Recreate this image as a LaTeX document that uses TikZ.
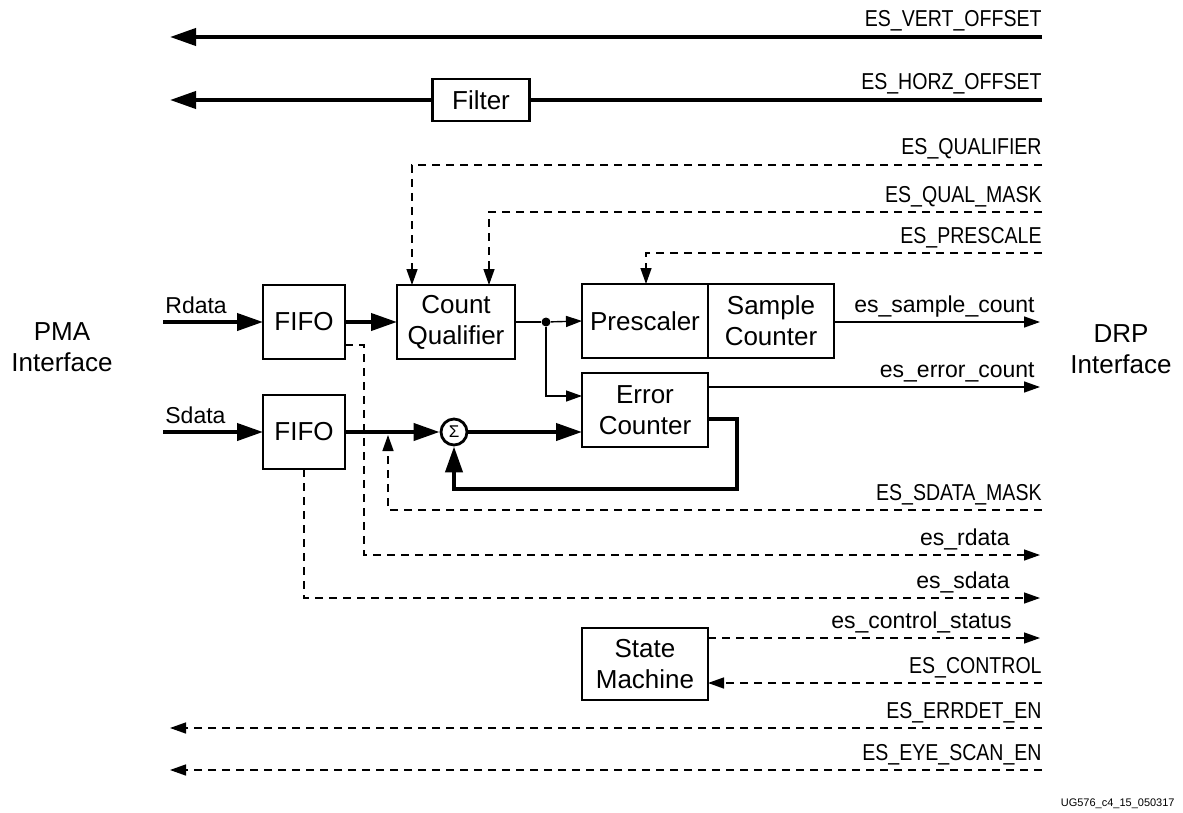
\documentclass[tikz,border=0pt]{standalone}
\usepackage{fontspec}
\setmainfont{Liberation Sans}
\newfontfamily\narrowfont[FakeStretch=0.85]{Liberation Sans}
\usetikzlibrary{arrows.meta, positioning}

\newcommand{\boxfont}{\fontsize{13}{15.5}\selectfont}
\newcommand{\sigfont}{\fontsize{11.5}{13}\selectfont}
\newcommand{\capsfont}{\narrowfont\fontsize{11.5}{13}\selectfont}

\begin{document}
\begin{tikzpicture}[
    x=0.5pt, y=-0.5pt, % one unit = one pixel of the layout, y pointing down
    >={Triangle[length=8pt, width=5.5pt]}, % small tip for thin and dashed lines
    block/.style={draw, line width=1.4pt, outer sep=0pt, inner sep=2pt, align=center, font=\boxfont, minimum width=63pt, minimum height=37pt}, % Style for the boxes
    bus/.style={line width=2pt}, % Style for the thick data paths
    busarrow/.style={bus, -{Triangle[length=13pt, width=8.5pt]}}, % thick path with big tip
    wire/.style={line width=0.7pt}, % Style for thin solid lines
    ctrl/.style={line width=0.7pt, dash pattern=on 4pt off 3pt}, % Style for dashed control lines
    siglabel/.style={anchor=base east, inner sep=0pt, font=\sigfont}, % lower case port names
    reglabel/.style={anchor=base east, inner sep=0pt, font=\capsfont}, % attribute names
    iface/.style={align=center, font=\boxfont} % Style for the side labels
]
    \useasboundingbox (0,0) rectangle (1183,813);

    % --- Blocks ---
    \node[block, minimum width=41pt] (fifoR) at (304,322) {FIFO};
    \node[block, minimum width=41pt] (fifoS) at (304,432) {FIFO};
    \node[block, minimum width=59pt] (qual) at (456,322) {Count\\Qualifier};
    \node[block] (presc) at (645,321) {Prescaler};
    \node[block, right=0pt of presc] (sampcnt) {Sample\\Counter};
    \node[block] (errcnt) at (645,410) {Error\\Counter};
    \node[block, minimum height=36pt] (fsm) at (645,664) {State\\Machine};
    \node[block, minimum width=48.5pt, minimum height=21pt] (filter) at (481,100) {Filter};
    \node[draw, circle, line width=1.4pt, minimum size=13pt, inner sep=0pt, font=\fontsize{8.5}{9}\selectfont] (sum) at (454,432) {Σ};
    \node[circle, fill, inner sep=0pt, minimum size=4.5pt] (split) at (546,322) {};

    % --- Interface labels ---
    \node[iface] (pma) at (62,347) {PMA\\Interface};
    \node[iface] (drp) at (1121,349) {DRP\\Interface};

    % --- Offset paths at the top ---
    \coordinate (vertR) at (1042,37);
    \coordinate (vertL) at (170,37);
    \draw[busarrow] (vertR) -- (vertL);
    \node[reglabel] (vertLbl) at (1042,27) {ES\_VERT\_OFFSET};
    \coordinate (horzR) at (1042,100);
    \coordinate (horzL) at (170,100);
    \draw[bus] (horzR) -- (filter.east);
    \draw[busarrow] (filter.west) -- (horzL);
    \node[reglabel] (horzLbl) at (1042,90) {ES\_HORZ\_OFFSET};

    % --- Controls for qualifier and prescaler ---
    \coordinate (qualR) at (1042,165);
    \coordinate (qualTap) at (412,165);
    \draw[ctrl, ->] (qualR) -- (qualTap) -- (qualTap |- qual.north);
    \node[reglabel] (qualLbl) at (1042,155) {ES\_QUALIFIER};
    \coordinate (maskR) at (1042,212);
    \coordinate (maskTap) at (489,212);
    \draw[ctrl, ->] (maskR) -- (maskTap) -- (maskTap |- qual.north);
    \node[reglabel] (maskLbl) at (1042,202) {ES\_QUAL\_MASK};
    \coordinate (prescR) at (1042,253);
    \coordinate (prescTap) at (646,253);
    \draw[ctrl, ->] (prescR) -- (prescTap) -- (prescTap |- presc.north);
    \node[reglabel] (prescLbl) at (1042,243) {ES\_PRESCALE};

    % --- Data inputs ---
    \coordinate (rdIn) at (163,322);
    \coordinate (sdIn) at (163,432);
    \draw[busarrow] (rdIn) -- (fifoR.west);
    \draw[busarrow] (sdIn) -- (fifoS.west);
    \node[anchor=base west, inner sep=0pt, font=\sigfont] (rdLbl) at (165,313) {Rdata};
    \node[anchor=base west, inner sep=0pt, font=\sigfont] (sdLbl) at (165,423) {Sdata};

    % --- Data path ---
    \draw[busarrow] (fifoR.east) -- (qual.west);
    \draw[wire] (qual.east) -- (split);
    \draw[wire, ->] (split) -- (presc.west);
    \coordinate (errIn) at (582,396);
    \draw[wire, ->] (split) |- (errIn);
    \draw[busarrow] (fifoS.east) -- (sum.west);
    \draw[busarrow] (sum.east) -- (sum -| errcnt.west);
    \coordinate (fbOut) at (708,419);
    \coordinate (fbLow) at (737,489);
    \draw[busarrow] (fbOut) -| (fbLow) -| (sum.south);

    % --- Counter outputs ---
    \coordinate (sampOut) at (1040,322);
    \draw[wire, ->] (sampcnt.east |- sampOut) -- (sampOut);
    \node[siglabel] (sampLbl) at (1035,312) {es\_sample\_count};
    \coordinate (errOut) at (1040,387);
    \draw[wire, ->] (errOut -| errcnt.east) -- (errOut);
    \node[siglabel] (errLbl) at (1035,377) {es\_error\_count};

    % --- Sdata mask and raw data taps ---
    \coordinate (smaskR) at (1042,510);
    \coordinate (smaskTap) at (388,510);
    \coordinate (smaskEnd) at (388,435);
    \draw[ctrl, ->] (smaskR) -- (smaskTap) -- (smaskEnd);
    \node[reglabel] (smaskLbl) at (1042,500) {ES\_SDATA\_MASK};
    \coordinate (rdTap) at (364,345);
    \coordinate (rdOut) at (1040,555);
    \draw[ctrl, ->] (rdTap -| fifoR.east) -- (rdTap) |- (rdOut);
    \node[siglabel] (rdOutLbl) at (1010,545) {es\_rdata};
    \coordinate (sdOut) at (1040,598);
    \draw[ctrl, ->] (fifoS.south) |- (sdOut);
    \node[siglabel] (sdOutLbl) at (1010,588) {es\_sdata};

    % --- State machine ---
    \coordinate (statOut) at (1040,638);
    \draw[ctrl, ->] (statOut -| fsm.east) -- (statOut);
    \node[siglabel] (statLbl) at (1012,628) {es\_control\_status};
    \coordinate (ctlIn) at (1042,683);
    \draw[ctrl, ->] (ctlIn) -- (ctlIn -| fsm.east);
    \node[reglabel] (ctlLbl) at (1042,673) {ES\_CONTROL};

    % --- Enables at the bottom ---
    \coordinate (errdetR) at (1042,728);
    \coordinate (errdetL) at (170,728);
    \draw[ctrl, ->] (errdetR) -- (errdetL);
    \node[reglabel] (errdetLbl) at (1042,718) {ES\_ERRDET\_EN};
    \coordinate (eyeR) at (1042,770);
    \coordinate (eyeL) at (170,770);
    \draw[ctrl, ->] (eyeR) -- (eyeL);
    \node[reglabel] (eyeLbl) at (1042,760) {ES\_EYE\_SCAN\_EN};

    \node[anchor=base east, inner sep=0pt, font=\fontsize{5.5}{6}\selectfont] (tag) at (1175,806) {UG576\_c4\_15\_050317};
\end{tikzpicture}
\end{document}
